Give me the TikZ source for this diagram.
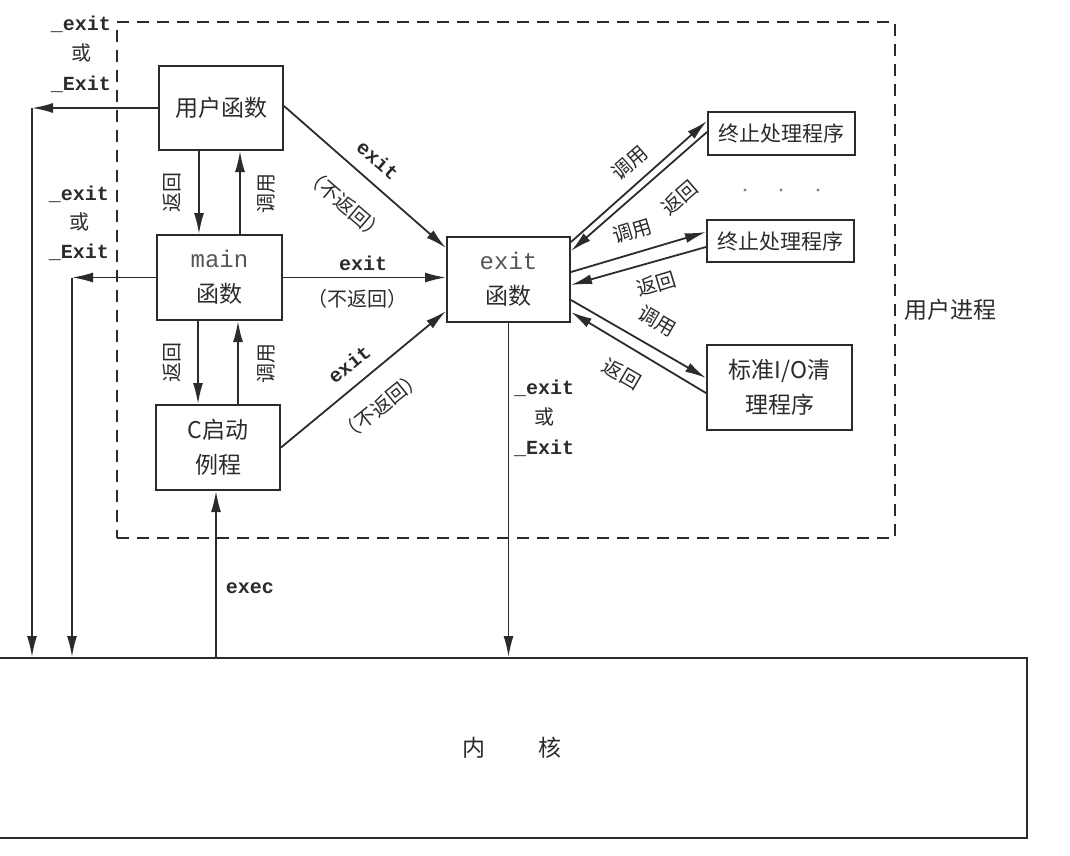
\documentclass[tikz,border=0pt]{standalone}
\usepackage{fontspec}
\setmonofont{Liberation Mono}
\newfontfamily\cjk{Noto Sans CJK SC}
\usetikzlibrary{arrows.meta,calc}
\definecolor{ink}{HTML}{2B2B2B}
\begin{document}
\begin{tikzpicture}[x=1pt,y=-1pt,
  box/.style={draw=ink, line width=2pt, inner sep=0pt, align=center, text=ink,
    font=\cjk\fontsize{23}{35}\selectfont},
  arr/.style={draw=ink, line width=1.8pt, -{Latex[length=21pt,width=10pt]}},
  lbl/.style={font=\ttfamily\bfseries\fontsize{20}{30}\selectfont, text=ink, inner sep=0pt, align=center},
  clbl/.style={font=\cjk\fontsize{20}{24}\selectfont, text=ink, inner sep=0pt}]
\useasboundingbox (0,0) rectangle (1070,855);
% process frame
\node[draw=ink, line width=1.6pt, dash pattern=on 12pt off 8pt, minimum width=778pt, minimum height=516pt, inner sep=0pt] (proc) at (506,280) {};
\node[clbl, font=\cjk\fontsize{23}{28}\selectfont] (proclbl) at (950,310) {用户进程};
% boxes
\node[box, minimum width=124pt, minimum height=84pt] (uf) at (221,108) {用户函数};
\node[box, minimum width=125pt, minimum height=85pt] (main) at (219.5,277.5) {{\ttfamily\fontsize{24}{28}\selectfont\color{ink!80}main}\\函数};
\node[box, minimum width=124pt, minimum height=85pt] (cs) at (218,447.5) {C启动\\例程};
\node[box, minimum width=123pt, minimum height=85pt] (ex) at (508.5,279.5) {{\ttfamily\fontsize{24}{28}\selectfont\color{ink!80}exit}\\函数};
\node[box, minimum width=147pt, minimum height=43pt, font=\cjk\fontsize{21}{26}\selectfont] (t1) at (781.5,133.5) {终止处理程序};
\node[box, minimum width=147pt, minimum height=42pt, font=\cjk\fontsize{21}{26}\selectfont] (t2) at (780.5,241) {终止处理程序};
\node[box, minimum width=145pt, minimum height=85pt] (io) at (779.5,387.5) {标准I/O清\\理程序};
\node[box, minimum width=1030pt, minimum height=180pt] (kernel) at (512,748) {内\hspace{53pt}核};
% dots
\fill[ink!60] (745,190) circle (1.6pt) (781,190) circle (1.6pt) (818,190) circle (1.6pt);
% left exits
\coordinate (c1) at (32,108);
\coordinate (c2) at (72,277.5);
\draw[arr] (uf.west) -- (c1);
\draw[arr] (c1) -- (c1 |- kernel.north);
\draw[arr] (main.west) -- (c2);
\draw[arr] (c2) -- (c2 |- kernel.north);
\node[lbl] (lx1) at (81,54) {\_exit\\{\cjk\mdseries 或}\\\_Exit};
\node[lbl, font=\ttfamily\bfseries\fontsize{20}{29}\selectfont] (lx2) at (79,223) {\_exit\\{\cjk\mdseries 或}\\\_Exit};
% vertical calls/returns
\draw[arr] ([xshift=-22pt]uf.south) -- ([xshift=-22pt]uf.south |- main.north);
\draw[arr] ([xshift=19pt]uf.south |- main.north) -- ([xshift=19pt]uf.south);
\draw[arr] ([xshift=-21.5pt]main.south) -- ([xshift=-21.5pt]main.south |- cs.north);
\draw[arr] ([xshift=18.5pt]main.south |- cs.north) -- ([xshift=18.5pt]main.south);
\node[clbl, rotate=90] (r1) at (172,192) {返回};
\node[clbl, rotate=90] (k1) at (266,193) {调用};
\node[clbl, rotate=90] (r2) at (172,362) {返回};
\node[clbl, rotate=90] (k2) at (266,363) {调用};
% exits to exit function
\draw[arr] ([yshift=2pt]uf.east) -- ([yshift=-12pt]ex.north west);
\draw[arr] (main.east) -- (main.east -| ex.west);
\draw[arr] (cs.east) -- ([yshift=12pt]ex.south west);
\node[lbl, rotate=-40.5] (e1) at (378,160) {exit};
\node[clbl, rotate=-40.5] (n1) at (345,204) {（不返回）};
\node[lbl] (e2) at (363,263) {exit};
\node[clbl] (n2) at (357,299) {（不返回）};
\node[lbl, rotate=39] (e3) at (349,364) {exit};
\node[clbl, rotate=39] (n3) at (381,406) {（不返回）};
% exit handlers
\draw[arr] ([yshift=-6pt]ex.north east) -- ([yshift=-10pt]t1.north west);
\draw[arr] ([yshift=-21pt]t1.north west) -- ([yshift=-15pt]ex.north east);
\draw[arr] ([yshift=7.5pt]ex.east) -- ([yshift=9pt]t2.west);
\draw[arr] ([yshift=-6pt]t2.west) -- ([yshift=-5.5pt]ex.east);
\draw[arr] ([yshift=-20.5pt]ex.east) -- ([yshift=9.5pt]io.west);
\draw[arr] ([yshift=-5.5pt]io.west) -- ([yshift=-32.5pt]ex.east);
\node[clbl, rotate=41] (ca1) at (630,163) {调用};
\node[clbl, rotate=41] (re1) at (680,198) {返回};
\node[clbl, rotate=17] (ca2) at (632,231) {调用};
\node[clbl, rotate=17] (re2) at (656,284) {返回};
\node[clbl, rotate=-30] (ca3) at (657,321) {调用};
\node[clbl, rotate=-30] (re3) at (622,374) {返回};
% to kernel
\draw[arr] (ex.south) -- (ex.south |- kernel.north);
\node[lbl] (lx3) at (544,418) {\_exit\\{\cjk\mdseries 或}\\\_Exit};
\draw[arr] ([xshift=-2pt]cs.south |- kernel.north) -- ([xshift=-2pt]cs.south);
\node[lbl] (exec) at (250,588) {exec};
\end{tikzpicture}
\end{document}
